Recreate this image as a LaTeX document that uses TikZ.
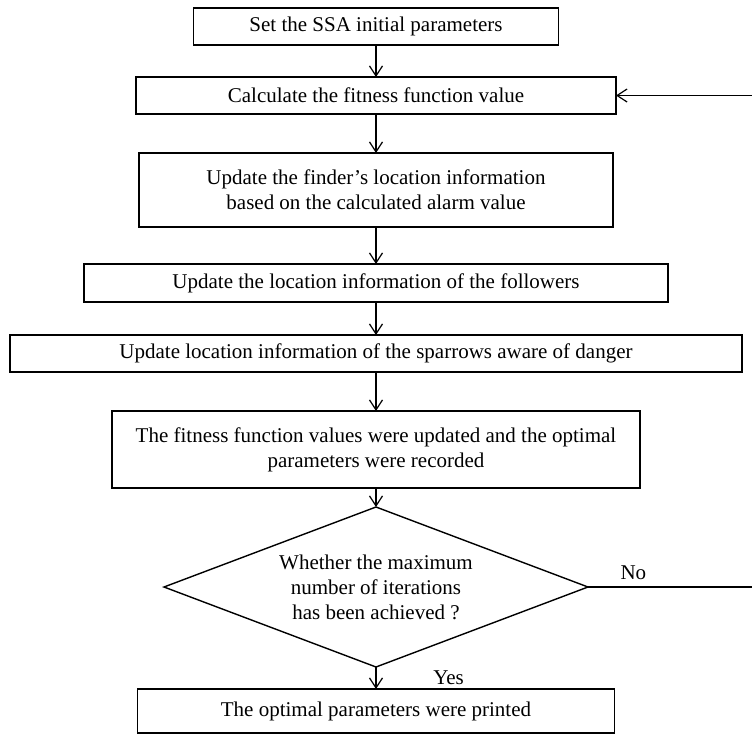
\documentclass[tikz,border=0pt]{standalone}
\usepackage{fontspec}
\setmainfont{Liberation Serif}
\usepackage{tikz}
\usetikzlibrary{positioning}
\usetikzlibrary{shapes.geometric}
\usetikzlibrary{arrows.meta}
\tikzset{box/.style = {draw, line width=0.7pt, outer sep=0pt, align=center, text centered, minimum height=18.5pt}}
\tikzset{decision/.style = {draw, diamond, line width=0.7pt, outer sep=0pt, align=center, text centered, inner sep=0pt, aspect=2.65}}
\tikzset{arr/.style = {line width=0.6pt, -{Straight Barb[length=5pt, width=6.5pt]}}}
\begin{document}
\begin{tikzpicture}[auto,
  node distance = 16pt,
  font=\fontsize{10.5}{12.5}\selectfont
]
\useasboundingbox (0,0) rectangle (376pt,-367.5pt);

\node[box, minimum width=182.5pt] (b1) at (188pt,-13.25pt) {Set the SSA initial parameters};
\node[box, below=16pt of b1, minimum width=240pt] (b2) {Calculate the fitness function value};
\node[box, below=19.5pt of b2, minimum width=237pt, minimum height=37pt] (b3) {
  Update the finder's location information \\
  based on the calculated alarm value
};
\node[box, below=18.5pt of b3, minimum width=292pt, minimum height=19pt] (b4) {Update the location information of the followers};
\node[box, below=16.5pt of b4, minimum width=366pt] (b5) {Update location information of the sparrows aware of danger};
\node[box, below=19.5pt of b5, minimum width=264pt, minimum height=38.5pt] (b6) {
  The fitness function values were updated and the optimal \\
  parameters were recorded
};
\node[decision, below=9.5pt of b6, minimum width=212pt, minimum height=80pt] (b7) {
  Whether the maximum \\
  number of iterations \\
  has been achieved ?
};
\node[box, below=11pt of b7, minimum width=238.5pt, minimum height=22pt] (b8) {The optimal parameters were printed};

\draw[arr]  (b1) -- (b2);
\draw[arr]  (b2) -- (b3);
\draw[arr]  (b3) -- (b4);
\draw[arr]  (b4) -- (b5);
\draw[arr]  (b5) -- (b6);
\draw[arr]  (b6) -- (b7);
\draw[arr]  (b7) -- (b8) node[midway, right, xshift=25pt]{Yes};
\draw[arr]  (b7.east) -- node[above, pos=.27]{No} ++ (84pt, 0) |- (b2.east);

\end{tikzpicture}
\end{document}
